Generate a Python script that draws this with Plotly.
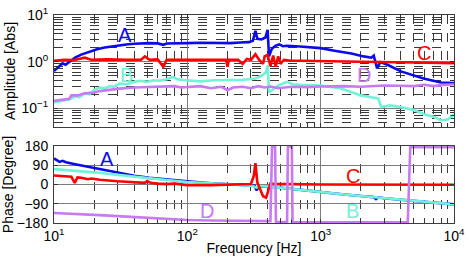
import math
import plotly.graph_objects as go

# ---------------- data ----------------
# Amplitude
amp_A_f = [10, 10.5, 11, 11.6, 12.2, 13, 14.4, 16, 18.6, 21, 24, 28, 31, 36, 40, 46, 52, 60, 66, 70, 80, 100,
           125, 160, 210, 250, 290, 310, 324, 335, 360, 385, 400, 410, 430, 460, 490, 520, 560, 700, 1000,
           1300, 1700, 2100, 2400, 2500, 2650, 2800, 3200, 4000, 5000, 6000, 7000, 8000, 10000]
amp_A = [0.63, 0.72, 0.82, 0.92, 0.86, 1.0, 1.22, 1.42, 1.68, 1.85, 2.02, 2.17, 2.26, 2.36, 2.42, 2.48, 2.5,
         2.47, 2.3, 2.45, 2.5, 2.5, 2.55, 2.52, 2.5, 2.58, 2.62, 2.8, 4.6, 3.1, 3.0, 3.3, 4.8, 1.3, 1.9, 2.2,
         2.35, 2.15, 2.2, 2.12, 1.95, 1.7, 1.5, 1.3, 1.22, 1.35, 0.72, 0.98, 0.85, 0.62, 0.5, 0.43, 0.39, 0.36,
         0.35]

amp_B_f = [10, 11, 12.1, 13, 14.4, 15.5, 17, 18.5, 20, 22, 24, 26.4, 28, 31, 35, 40, 44, 50, 56, 62, 70, 78,
           84, 97, 125, 160, 210, 260, 320, 360, 390, 400, 410, 440, 480, 560, 620, 700, 1000, 1400, 2000,
           2700, 2850, 3300, 4000, 5000, 6000, 7000, 8000, 9000, 10000]
amp_B = [0.135, 0.14, 0.15, 0.155, 0.18, 0.175, 0.21, 0.2, 0.25, 0.28, 0.27, 0.3, 0.29, 0.34, 0.33, 0.37,
         0.39, 0.37, 0.4, 0.39, 0.42, 0.47, 0.42, 0.4, 0.38, 0.4, 0.4, 0.41, 0.43, 0.5, 0.6, 0.84, 0.22, 0.26,
         0.31, 0.37, 0.33, 0.32, 0.31, 0.27, 0.19, 0.163, 0.107, 0.116, 0.107, 0.092, 0.075, 0.066, 0.056,
         0.058, 0.075]

amp_C_f = [10, 12, 14, 17, 19, 25, 35, 45, 48, 52, 60, 66, 70, 90, 120, 160, 195, 200, 205, 240, 260, 280,
           300, 324, 345, 370, 380, 400, 420, 440, 460, 480, 500, 530, 600, 700, 1000, 2000, 5000, 10000]
amp_C = [1.05, 1.1, 1.08, 1.22, 1.1, 1.12, 1.1, 1.1, 1.3, 1.1, 1.12, 0.78, 1.1, 1.1, 1.1, 1.12, 1.1, 0.78,
         1.1, 1.1, 0.9, 1.15, 1.1, 1.45, 1.1, 0.9, 1.3, 1.4, 0.8, 1.35, 0.78, 1.3, 0.9, 1.1, 1.05, 1.05,
         1.02, 1.0, 0.96, 0.93]

amp_D_f = [10, 11, 12, 13, 13.5, 15, 17, 20, 22, 26, 31, 40, 50, 62, 80, 90, 100, 125, 150, 180, 200, 220,
           260, 300, 340, 380, 420, 480, 600, 800, 1000, 1500, 2000, 3000, 4000, 5000, 6000, 7000, 8000, 10000]
amp_D = [0.145, 0.15, 0.155, 0.16, 0.19, 0.19, 0.21, 0.22, 0.235, 0.25, 0.265, 0.28, 0.285, 0.295, 0.3,
         0.28, 0.285, 0.3, 0.27, 0.29, 0.245, 0.28, 0.29, 0.27, 0.3, 0.28, 0.295, 0.27, 0.29, 0.285, 0.295,
         0.3, 0.29, 0.31, 0.305, 0.3, 0.32, 0.3, 0.315, 0.33]

# Phase
ph_A_f = [10, 10.5, 11, 11.6, 12.3, 14.4, 17, 20, 26, 33, 40, 52, 68, 80, 100, 150, 200, 280, 320, 330, 345,
          420, 500, 707, 1000, 1500, 2000, 2500, 2600, 2700, 3000, 5000, 7000, 10000]
ph_A = [122, 113, 106, 111, 104, 95, 86, 78, 63, 50, 41, 31, 23, 19, 15, 6, 2, -3, -6, -27, -8, -10, -15,
        -28, -38, -47, -54, -59, -68, -60, -64, -76, -85, -93]

ph_B_f = [10, 15, 20, 30, 40, 50, 70, 100, 150, 200, 300, 330, 350, 420, 500, 707, 1000, 1500, 2000, 3000,
          5000, 7000, 10000]
ph_B = [72, 64, 57, 45, 36, 30, 21, 12, 5, 1, -5, -14, -7, -10, -15, -28, -38, -47, -54, -64, -76, -85, -93]

ph_C_f = [10, 11, 12.5, 13.5, 14.3, 15, 16, 18, 19, 22, 30, 40, 48, 50, 53, 60, 70, 80, 100, 150, 200, 250,
          300, 315, 324, 335, 350, 370, 390, 405, 420, 450, 500, 600, 1000, 3000, 10000]
ph_C = [42, 40, 38, 36, 8, 33, 32, 25, 28, 22, 15, 10, 8, 16, 8, 4, 2, 4, -3, -3, 0, 0, 2, 40, 100, 10, -20,
        -55, -62, -30, 5, 2, 3, 2, 0, 0, -1]

ph_D_f = [10, 15, 22, 35, 52, 70, 100, 150, 250, 420, 432, 455, 462, 560, 568, 608, 615, 1000, 4500, 4700,
          10000]
ph_D = [-133, -137, -143, -150, -157, -161, -166, -168, -170, -171, 178, 178, -176, -176, 178, 178, -177,
        -177, -177, 175, 175]

colors = {"A": "#0a0aeb", "B": "#72f2d6", "C": "#ff0000", "D": "#c77af2"}

x_tickvals = [10, 100, 1000, 10000]
x_ticktext = ["10<sup>1</sup>", "10<sup>2</sup>", "10<sup>3</sup>", "10<sup>4</sup>"]
amp_tickvals = [0.1, 1, 10]
amp_ticktext = ["10<sup>\u22121</sup>", "10<sup>0</sup>", "10<sup>1</sup>"]
ph_tickvals = [-180, -90, 0, 90, 180]
ph_ticktext = ["\u2212180", "\u221290", "0", "90", "180"]

# ---------------- figure ----------------
fig = go.Figure()
LW = 2.6
amp_series = [("A", amp_A_f, amp_A), ("B", amp_B_f, amp_B), ("C", amp_C_f, amp_C), ("D", amp_D_f, amp_D)]
ph_series = [("A", ph_A_f, ph_A), ("B", ph_B_f, ph_B), ("C", ph_C_f, ph_C), ("D", ph_D_f, ph_D)]
for name, f, v in amp_series:
    fig.add_trace(go.Scatter(x=f, y=v, mode="lines", line=dict(color=colors[name], width=LW),
                             xaxis="x", yaxis="y", showlegend=False))
for name, f, v in ph_series:
    fig.add_trace(go.Scatter(x=f, y=v, mode="lines", line=dict(color=colors[name], width=LW),
                             xaxis="x2", yaxis="y2", showlegend=False))

FONT = "Liberation Sans, Arial, sans-serif"
major_grid = "#7c7c7c"
minor = dict(dtick="D1", showgrid=True, griddash="dash", gridcolor="#3a3a3a", gridwidth=0.8,
             ticks="inside", ticklen=3, tickcolor="#333")
common = dict(showline=True, linecolor="#3c3c3c", linewidth=1, mirror="allticks", ticks="inside",
              ticklen=4, tickcolor="#333", showgrid=True, gridcolor=major_grid, gridwidth=1,
              zeroline=False, automargin=False, tickfont=dict(size=14, color="black", family=FONT))

fig.update_layout(
    width=469, height=263,
    margin=dict(l=54, r=15, t=15, b=40),
    paper_bgcolor="white", plot_bgcolor="white",
    font=dict(family=FONT, color="black", size=14),
    xaxis=dict(type="log", range=[1, 4], domain=[0, 1], anchor="y", tickvals=x_tickvals,
               showticklabels=False, minor=minor, **common),
    yaxis=dict(type="log", range=[math.log10(0.04), 1], domain=[0.4615, 1], anchor="x",
               tickvals=amp_tickvals, ticktext=amp_ticktext, minor=minor, ticklabelstandoff=2,
               title=dict(text="Amplitude [Abs]", font=dict(size=14), standoff=2), **common),
    xaxis2=dict(type="log", range=[1, 4], domain=[0, 1], anchor="y2", tickvals=x_tickvals,
                ticktext=x_ticktext, minor=minor,
                title=dict(text="Frequency [Hz]", font=dict(size=14), standoff=0), **common),
    yaxis2=dict(range=[-180, 180], domain=[0, 0.37], anchor="x2", tickvals=ph_tickvals,
                ticktext=ph_ticktext, ticklabelstandoff=2,
                title=dict(text="Phase [Degree]", font=dict(size=14), standoff=2), **common),
)

labels = [
    ("A", "x", "y", 1.534, 0.57), ("B", "x", "y", 1.546, -0.29), ("C", "x", "y", 3.774, 0.19),
    ("D", "x", "y", 3.323, -0.29),
    ("A", "x2", "y2", 1.40, 118), ("C", "x2", "y2", 3.24, 42), ("D", "x2", "y2", 2.15, -125),
    ("B", "x2", "y2", 3.24, -125),
]
for txt, xr, yr, xv, yv in labels:
    fig.add_annotation(text=txt, x=xv, y=yv, xref=xr, yref=yr, showarrow=False,
                       font=dict(size=20, color=colors[txt], family=FONT))

fig.write_html("out.html", config={"displayModeBar": False},
               post_script="document.body.style.margin='0';")
